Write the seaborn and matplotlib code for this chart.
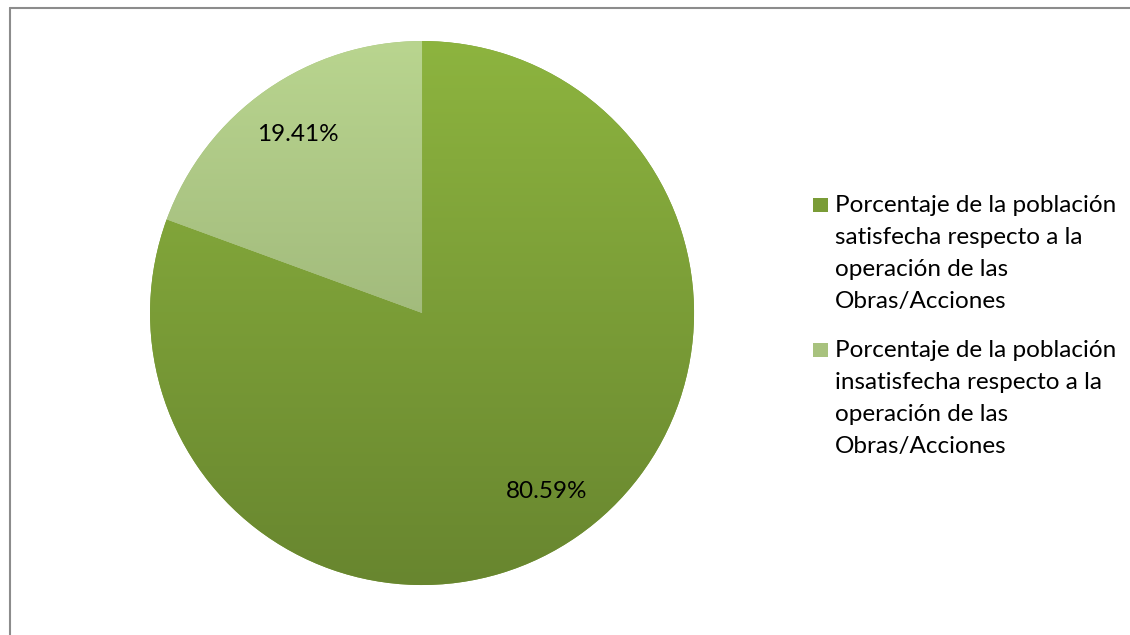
import numpy as np
import matplotlib.pyplot as plt
import matplotlib.patches as mpatches
from matplotlib.colors import LinearSegmentedColormap
from matplotlib.lines import Line2D
import seaborn as sns

labels = [
    "Porcentaje de la población\nsatisfecha respecto a la\noperación de las\nObras/Acciones",
    "Porcentaje de la población\ninsatisfecha respecto a la\noperación de las\nObras/Acciones",
]
values = [80.59, 19.41]
top_colors = ["#8DB43F", "#B9D58F"]
bottom_colors = ["#68862F", "#8CA26A"]
legend_colors = ["#7A9C37", "#A8C27E"]

sns.set_theme(style="white")
plt.rcParams["font.family"] = ["Lato", "DejaVu Sans"]

W, H = 1130, 635
fig = plt.figure(figsize=(W / 100, H / 100), dpi=100)
ax = fig.add_axes([0.1328, 0.0787, 0.4814, 0.8567])

wedges, texts, autotexts = ax.pie(
    values,
    startangle=90,
    counterclock=False,
    colors=legend_colors,
    autopct="%.2f%%",
    pctdistance=0.8,
    textprops={"fontsize": 17.5, "color": "black"},
    wedgeprops={"linewidth": 0},
)
ax.set_xlim(-1, 1)
ax.set_ylim(-1, 1)
ax.set_aspect("equal")

# vertical gradient on each slice
grad = np.linspace(1, 0, 256).reshape(-1, 1)
for w, c0, c1 in zip(wedges, top_colors, bottom_colors):
    cmap = LinearSegmentedColormap.from_list("g", [c1, c0])
    im = ax.imshow(grad, cmap=cmap, extent=[-1, 1, -1, 1], aspect="auto", zorder=1.5, origin="upper")
    im.set_clip_path(w)
for t in autotexts:
    t.set_zorder(3)

# legend, drawn by hand so the marker sits on the first line
for i, (lab, c) in enumerate(zip(labels, legend_colors)):
    base = 212 + i * 145
    fig.add_artist(mpatches.Rectangle((813 / W, 1 - base / H), 15 / W, 14 / H,
                                      facecolor=c, edgecolor="none", transform=fig.transFigure))
    for j, line in enumerate(lab.split("\n")):
        fig.text(835 / W, 1 - (base + 32 * j) / H, line, fontsize=17.5,
                 va="baseline", ha="left", color="black")

# chart border (left and top)
fig.add_artist(Line2D([9.5 / W, 9.5 / W], [0, 1 - 7.5 / H], color="#8C8C8C", lw=1.5, transform=fig.transFigure))
fig.add_artist(Line2D([9.5 / W, 1], [1 - 7.5 / H, 1 - 7.5 / H], color="#8C8C8C", lw=1.5, transform=fig.transFigure))

fig.savefig("out.png", dpi=100)
